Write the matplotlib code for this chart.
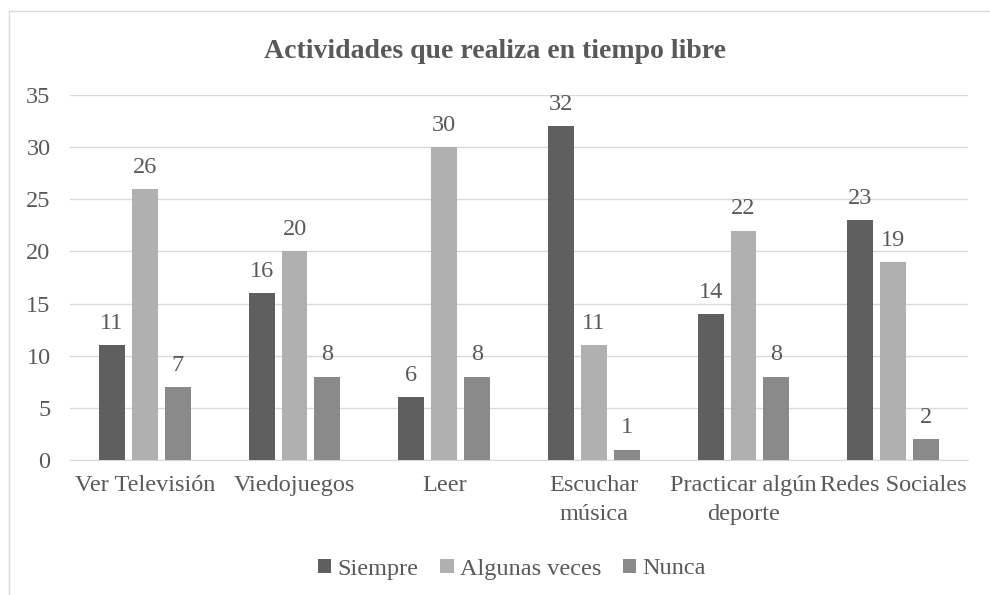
import matplotlib.pyplot as plt
import numpy as np
from matplotlib.patches import Rectangle

plt.rcParams['font.family'] = ['Liberation Serif', 'DejaVu Serif']

categories = ['Ver Televisión', 'Viedojuegos', 'Leer', 'Escuchar\nmúsica',
              'Practicar algún\ndeporte', 'Redes Sociales']
siempre = [11, 16, 6, 32, 14, 23]
algunas = [26, 20, 30, 11, 22, 19]
nunca = [7, 8, 8, 1, 8, 2]
series_names = ['Siempre', 'Algunas veces', 'Nunca']
colors = ['#5f5f5f', '#b0b0b0', '#8a8a8a']
text_col = '#595959'

fig = plt.figure(figsize=(9.9, 5.95), dpi=100)
fig.patches.append(Rectangle((9/990, -0.1), 1.1, 1 - 11/595 + 0.1, transform=fig.transFigure,
                             fill=False, edgecolor='#d9d9d9', lw=1))
ax = fig.add_axes([70/990, 1 - 460/595, 898/990, 365/595])

x = np.arange(len(categories))
w = 0.173
step = 0.22
for i, (vals, name) in enumerate(zip([siempre, algunas, nunca], series_names)):
    bars = ax.bar(x + (i - 1) * step, vals, w, color=colors[i], label=name, zorder=3)
    ax.bar_label(bars, padding=8, fontsize=17.5, color=text_col)

ax.set_xlim(-0.5, len(categories) - 0.5)
ax.set_ylim(0, 35)
ax.set_yticks(range(0, 36, 5))
ax.set_xticks(x)
ax.set_xticklabels(categories, linespacing=1.5)
ax.tick_params(length=0, labelsize=17.5, colors=text_col)
ax.tick_params(axis='y', pad=14)
ax.tick_params(axis='x', pad=11)
ax.grid(axis='y', color='#d9d9d9', lw=1, zorder=0)
for s in ['top', 'right', 'left']:
    ax.spines[s].set_visible(False)
ax.spines['bottom'].set_color('#d9d9d9')

fig.text(0.5, 1 - 52/595, 'Actividades que realiza en tiempo libre', ha='center', va='center',
         fontsize=20, fontweight='bold', color=text_col)
fig.legend(loc='center', bbox_to_anchor=(512/990, 1 - 569/595), ncol=3, frameon=False,
           fontsize=17.5, handlelength=0.55, handleheight=0.55, handletextpad=0.25,
           columnspacing=0.9, labelcolor=text_col)

fig.savefig('out.png', dpi=100)
